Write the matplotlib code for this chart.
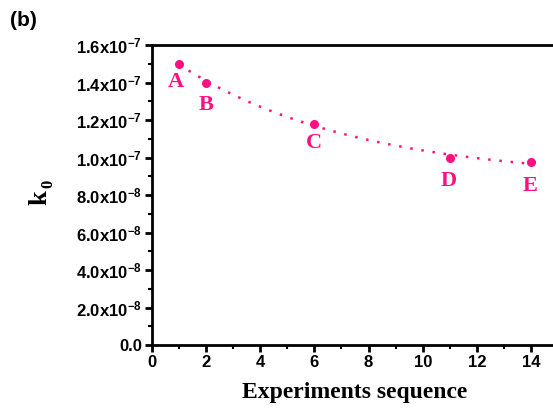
import numpy as np
import matplotlib
matplotlib.use('Agg')
import matplotlib.pyplot as plt
from matplotlib.ticker import MultipleLocator, FixedLocator

plt.rcParams['mathtext.fontset'] = 'custom'
plt.rcParams['mathtext.rm'] = 'Liberation Sans:bold'
plt.rcParams['mathtext.it'] = 'Liberation Sans:bold'
plt.rcParams['mathtext.bf'] = 'Liberation Sans:bold'

# rate constant k0 for each experiment
seq = [1, 2, 6, 11, 14]
k0 = [1.50e-7, 1.40e-7, 1.18e-7, 1.00e-7, 0.975e-7]
names = ['A', 'B', 'C', 'D', 'E']

y_ticks = [0.0, 2e-8, 4e-8, 6e-8, 8e-8, 1e-7, 1.2e-7, 1.4e-7, 1.6e-7]
y_ticklabels = ['0.0', '2.0x10$^{-8}$', '4.0x10$^{-8}$', '6.0x10$^{-8}$', '8.0x10$^{-8}$',
                '1.0x10$^{-7}$', '1.2x10$^{-7}$', '1.4x10$^{-7}$', '1.6x10$^{-7}$']

pink = '#FF1080'

fig = plt.figure(figsize=(5.53, 4.12), dpi=100)
ax = fig.add_axes([152 / 553, 1 - 345 / 412, 15 * 27.07 / 553, 300 / 412])

# smooth trend line through the measured points (exponential decay fit)
x = np.array(seq, dtype=float)
y = np.array(k0)
best = None
for tau in np.linspace(1, 30, 581):
    A = np.vstack([np.ones_like(x), np.exp(-x / tau)]).T
    coef, res, _, _ = np.linalg.lstsq(A, y, rcond=None)
    err = np.sum((A @ coef - y) ** 2)
    if best is None or err < best[0]:
        best = (err, tau, coef)
_, tau, coef = best
xf = np.linspace(min(seq), max(seq), 200)
ax.plot(xf, coef[0] + coef[1] * np.exp(-xf / tau), ls=(0, (1, 3.5)), lw=1.8, color=pink)
ax.plot(seq, k0, 'o', ms=5.5, color=pink)

offsets = {'A': (-2, -13), 'B': (0, -16), 'C': (0, -14), 'D': (-1, -17), 'E': (-1, -17)}
for xi, yi, n in zip(seq, k0, names):
    ax.annotate(n, (xi, yi), xytext=offsets[n], textcoords='offset points',
                ha='center', va='center', color=pink, fontsize=16,
                fontweight='bold', family='Liberation Serif')

ax.set_xlim(0, 15)
ax.set_ylim(0, 1.6e-7)
ax.xaxis.set_major_locator(FixedLocator([0, 2, 4, 6, 8, 10, 12, 14]))
ax.xaxis.set_minor_locator(MultipleLocator(1))
ax.yaxis.set_major_locator(FixedLocator(y_ticks))
ax.yaxis.set_minor_locator(MultipleLocator(1e-8))
ax.set_yticklabels(y_ticklabels)

for s in ['left', 'bottom', 'top']:
    ax.spines[s].set_linewidth(2)
ax.spines['right'].set_visible(False)
ax.tick_params(which='major', direction='out', length=5, width=2, labelsize=12, pad=2)
ax.tick_params(which='minor', direction='out', length=3, width=1.5)
ax.tick_params(top=False, which='both')
for lab in ax.get_xticklabels() + ax.get_yticklabels():
    lab.set_fontweight('bold')
    lab.set_family('Liberation Sans')

ax.set_xlabel('Experiments sequence', fontsize=17, fontweight='bold',
              family='Liberation Serif', labelpad=9)
# y label: k with subscript 0
fig.text(40 / 553, 1 - 198 / 412, 'k', rotation=90, ha='center', va='center',
         fontsize=19, fontweight='bold', family='Liberation Serif')
fig.text(48 / 553, 1 - 184 / 412, '0', rotation=90, ha='center', va='center',
         fontsize=12, fontweight='bold', family='Liberation Serif')
fig.text(10 / 553, 1 - 20 / 412, '(b)', fontsize=15, fontweight='bold',
         family='Liberation Sans', va='center')

fig.savefig('out.png', dpi=100)
